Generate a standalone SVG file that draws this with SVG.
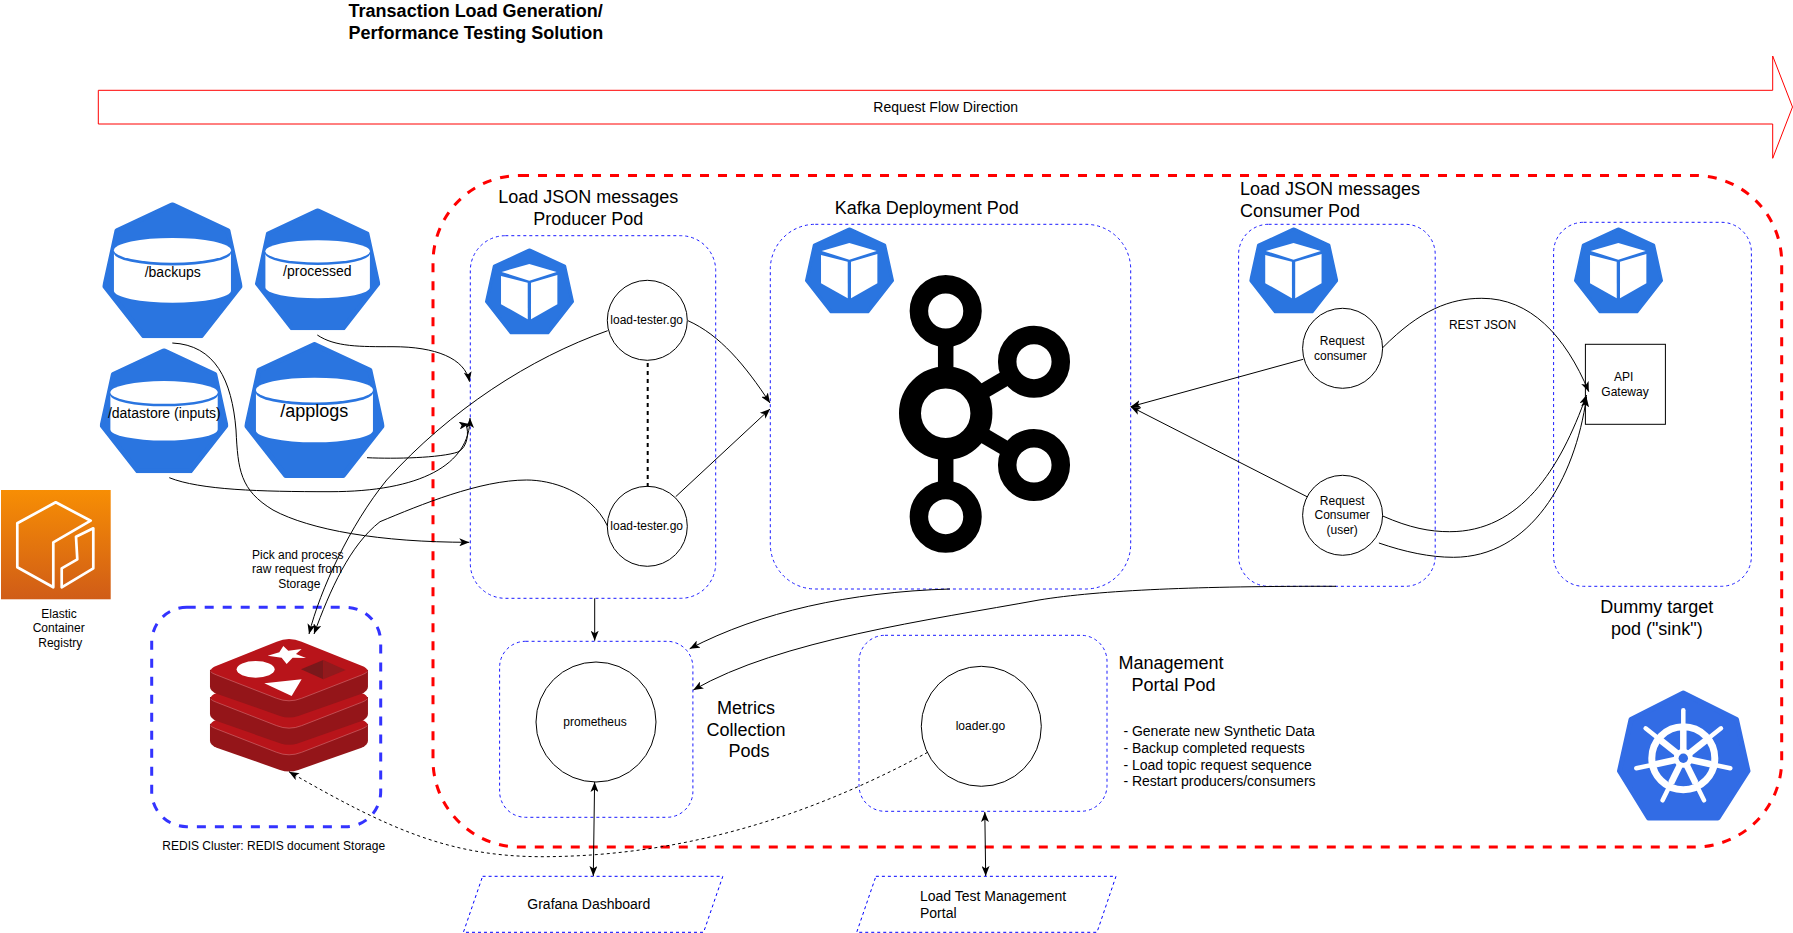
<svg xmlns="http://www.w3.org/2000/svg" xmlns:xlink="http://www.w3.org/1999/xlink" width="1793" height="933" viewBox="0 0 1793 933">
<style>
text{font-family:"Liberation Sans",Arial,sans-serif;fill:#000}
.s12{font-size:12px}.s14{font-size:14px}.s18{font-size:18px}
.m{text-anchor:middle}
.b{font-weight:bold}
.pod{fill:none;stroke:#1a1aff;stroke-width:1;stroke-dasharray:3 3}
.node{fill:#fff;stroke:#000;stroke-width:1}
.para{fill:#fff;stroke:#0000ff;stroke-width:1;stroke-dasharray:3 3}
.c{fill:none;stroke:#000;stroke-width:1}
.a{marker-end:url(#ah)}
.d{stroke-dasharray:3 3}
.both{marker-start:url(#ah)}
.r{fill:none;stroke:#000;stroke-width:15.5}
</style>
<defs>
<marker id="ah" viewBox="0 0 10 8" refX="10" refY="4" markerWidth="10" markerHeight="8" markerUnits="userSpaceOnUse" orient="auto-start-reverse"><path d="M0,0 L10,4 L0,8 L2.5,4 Z" fill="#000"/></marker>
<linearGradient id="ecr" x1="0" y1="0" x2="0" y2="1"><stop offset="0" stop-color="#F78E04"/><stop offset="1" stop-color="#D05C17"/></linearGradient>
<symbol id="vol" viewBox="0 0 1000 1000" preserveAspectRatio="none"><path d="M500,18 L895,208 L982,618 L705,982 L295,982 L18,618 L105,208 Z" fill="#2a75e0" stroke="#2a75e0" stroke-width="36" stroke-linejoin="round"/><ellipse cx="500" cy="353" rx="417" ry="91" fill="#fff"/><path d="M83,373 A417,91 0 0 0 917,373 L917,650 A417,88 0 0 1 83,650 Z" fill="#fff"/></symbol>
<symbol id="cube" viewBox="0 0 1000 1000" preserveAspectRatio="none"><path d="M500,18 L895,208 L982,618 L705,982 L295,982 L18,618 L105,208 Z" fill="#2a75e0" stroke="#2a75e0" stroke-width="36" stroke-linejoin="round"/><path d="M498,181 L805,274 L498,375 L187,274 Z" fill="#fff"/><path d="M180,320 L480,400 L480,822 L180,647 Z" fill="#fff"/><path d="M517,400 L813,310 L813,647 L517,822 Z" fill="#fff"/></symbol>
<g id="rl"><path d="M630,94 L630,145 Q630,157 650,166 L840,233 Q867,242 895,233 L1085,166 Q1104,157 1104,145 L1104,94 Z" fill="#941519"/><path d="M830,10 Q867,-6 905,10 L1085,82 Q1118,95 1085,110 L905,180 Q867,195 830,180 L650,110 Q616,95 650,82 Z" fill="#b8141a"/><path d="M632,100 Q636,105 650,110 L830,180 Q867,195 905,180 L1085,110 Q1098,105 1102,100" fill="none" stroke="#cf6a6e" stroke-width="2"/></g>
</defs>
<rect width="1793" height="933" fill="#fff"/>

<g id="flow-arrow"><path d="M98.3,90.3 H1772.7 V56 L1792.5,107 L1772.7,158.3 V124 H98.3 Z" fill="#fff" stroke="#ff0000" stroke-width="1"/><text class="s14 m" x="945.7" y="112">Request Flow Direction</text></g>
<g id="title"><text class="s18 b" x="348.6" y="17">Transaction Load Generation/</text><text class="s18 b" x="348.6" y="39">Performance Testing Solution</text></g>
<rect id="k8s-cluster" x="433" y="175.5" width="1348.7" height="671.5" rx="87" ry="87" fill="none" stroke="#ff0000" stroke-width="3" stroke-dasharray="9 9"/>
<g id="k8s-logo"><path d="M1683.3,693 L1736.5,719.5 L1748,771 L1718,818 L1648.5,818 L1619.5,771 L1631,719.5 Z" fill="#326ce5" stroke="#326ce5" stroke-width="5" stroke-linejoin="round"/>
<g fill="none" stroke="#fff"><circle cx="1683.3" cy="758.3" r="31.5" stroke-width="7"/><g stroke-width="4.5" stroke-linecap="round"><path d="M1683.3,758.3 V710.3"/><path d="M1683.3,758.3 L1721,728.3"/><path d="M1683.3,758.3 L1730.3,768.3"/><path d="M1683.3,758.3 L1704,800.3"/><path d="M1683.3,758.3 L1662.6,800.3"/><path d="M1683.3,758.3 L1636.3,768.3"/><path d="M1683.3,758.3 L1645.6,728.3"/></g><g stroke-width="6.5"><path d="M1683.3,758.3 V730"/><path d="M1683.3,758.3 L1705.5,740.6"/><path d="M1683.3,758.3 L1711,764.2"/><path d="M1683.3,758.3 L1695.5,783"/><path d="M1683.3,758.3 L1671.1,783"/><path d="M1683.3,758.3 L1655.6,764.2"/><path d="M1683.3,758.3 L1661.1,740.6"/></g></g><circle cx="1683.3" cy="758.3" r="9.5" fill="#fff"/><circle cx="1683.3" cy="758.3" r="4.7" fill="#326ce5"/></g>

<g id="ecr-icon"><rect x="1" y="490" width="109.7" height="109.3" fill="url(#ecr)"/><g fill="none" stroke="#fff" stroke-width="2.7" stroke-linejoin="round"><path d="M55.7,502.3 L90.7,520.7 L53.3,542.3 V587.3 L17.3,567.3 V523.3 Z"/><path d="M76,536.7 L93.3,528.3 V568.3 L61.7,587.3 V568.3 L77.3,559.3 Z"/></g><text class="s12 m" x="59" y="618">Elastic</text><text class="s12 m" x="58.7" y="632">Container</text><text class="s12 m" x="60.3" y="647">Registry</text></g>

<g id="vol-backups"><use href="#vol" x="102.3" y="202.3" width="140.3" height="136"/><text class="s14 m" x="172.7" y="277">/backups</text></g>
<g id="vol-processed"><use href="#vol" x="255" y="208.3" width="125.3" height="122"/><text class="s14 m" x="317.3" y="276">/processed</text></g>
<g id="vol-datastore"><use href="#vol" x="99.7" y="348.3" width="128.7" height="125"/><text class="s14 m" x="164.3" y="418">/datastore (inputs)</text></g>
<g id="vol-applogs"><use href="#vol" x="244.3" y="342" width="140.3" height="136"/><text class="s18 m" x="314.3" y="417">/applogs</text></g>

<g id="redis-cluster"><rect x="151.7" y="607.3" width="229" height="219.4" rx="35" ry="35" fill="none" stroke="#3333ff" stroke-width="3" stroke-dasharray="9 9"/><g transform="translate(0,480) scale(0.3333)"><use href="#rl" y="637"/><use href="#rl" y="557"/><use href="#rl" y="475"/><polygon points="850,498 865,512 905,507 888,522 918,534 878,533 860,552 845,533 803,527 838,517" fill="#fff"/><ellipse cx="767" cy="568" rx="57" ry="25" fill="#fff"/><polygon points="793,610 905,598 875,648" fill="#fff"/><polygon points="903,568 970,540 970,598" fill="#7a181b"/><polygon points="970,540 1037,570 970,598" fill="#911a1d"/></g><text class="s12 m" x="273.7" y="850">REDIS Cluster: REDIS document Storage</text></g>
<g id="redis-note"><text class="s12 m" x="297.7" y="559">Pick and process</text><text class="s12 m" x="297" y="573">raw request from</text><text class="s12 m" x="299.3" y="588">Storage</text></g>

<g id="producer-pod"><rect class="pod" x="470.3" y="235.7" width="245.4" height="362.6" rx="35" ry="35"/><use href="#cube" x="485" y="248.3" width="89" height="86.3"/><text class="s18 m" x="588.3" y="203">Load JSON messages</text><text class="s18 m" x="588.3" y="225">Producer Pod</text></g>
<g id="load-tester-1"><circle class="node" cx="647.3" cy="320.3" r="40"/><text class="s12 m" x="646.7" y="324">load-tester.go</text></g>
<g id="load-tester-2"><circle class="node" cx="647.3" cy="526.3" r="40"/><text class="s12 m" x="646.7" y="530">load-tester.go</text></g>

<g id="kafka-pod"><rect class="pod" x="770.3" y="224.3" width="360.4" height="364.7" rx="45" ry="45"/><use href="#cube" x="805" y="227.3" width="89" height="86.3"/><text class="s18 m" x="926.7" y="213.5">Kafka Deployment Pod</text>
<g id="kafka-logo"><path class="r" d="M945.7,330 V495"/><path class="r" d="M945.7,413.3 L1034,361.7"/><path class="r" d="M945.7,413.3 L1034,465"/><circle cx="945.7" cy="413.3" r="35.7" stroke="#000" stroke-width="22" fill="#fff"/><circle cx="945.7" cy="311" r="26.8" stroke="#000" stroke-width="18.5" fill="#fff"/><circle cx="1034" cy="361.7" r="26.8" stroke="#000" stroke-width="18.5" fill="#fff"/><circle cx="1034" cy="465" r="26.8" stroke="#000" stroke-width="18.5" fill="#fff"/><circle cx="945.7" cy="516.7" r="26.8" stroke="#000" stroke-width="18.5" fill="#fff"/></g></g>

<g id="consumer-pod"><rect class="pod" x="1238.6" y="224.3" width="196.6" height="362" rx="30" ry="30"/><use href="#cube" x="1249.2" y="227.3" width="89" height="86.3"/><text class="s18" x="1240" y="195">Load JSON messages</text><text class="s18" x="1240" y="217">Consumer Pod</text></g>
<g id="request-consumer"><circle class="node" cx="1342.6" cy="348.3" r="40"/><text class="s12 m" x="1342.2" y="344.7">Request</text><text class="s12 m" x="1340.3" y="360">consumer</text></g>
<g id="request-consumer-user"><circle class="node" cx="1342.6" cy="515.3" r="40"/><text class="s12 m" x="1342.2" y="505">Request</text><text class="s12 m" x="1342.2" y="519">Consumer</text><text class="s12 m" x="1342.2" y="534">(user)</text></g>

<g id="sink-pod"><rect class="pod" x="1553.6" y="222.3" width="197.8" height="364" rx="30" ry="30"/><use href="#cube" x="1574" y="227.3" width="89" height="86.3"/><text class="s18 m" x="1656.8" y="613">Dummy target</text><text class="s18 m" x="1656.8" y="635">pod ("sink")</text></g>
<g id="api-gateway"><rect class="node" x="1585.4" y="344.3" width="80" height="80"/><text class="s12 m" x="1623.6" y="381">API</text><text class="s12 m" x="1625" y="396">Gateway</text></g>

<g id="metrics-pod"><rect class="pod" x="499.6" y="641.3" width="193.3" height="176" rx="26" ry="26"/><text class="s18 m" x="746" y="714">Metrics</text><text class="s18 m" x="746" y="736">Collection</text><text class="s18 m" x="749" y="757">Pods</text></g>
<g id="prometheus"><circle class="node" cx="596" cy="722" r="60"/><text class="s12 m" x="595" y="726">prometheus</text></g>

<g id="management-pod"><rect class="pod" x="859" y="635.3" width="248" height="176" rx="26" ry="26"/><text class="s18 m" x="1171" y="669">Management</text><text class="s18 m" x="1173.6" y="691">Portal Pod</text><text class="s14" x="1123.4" y="736">- Generate new Synthetic Data</text><text class="s14" x="1123.4" y="753">- Backup completed requests</text><text class="s14" x="1123.4" y="770">- Load topic request sequence</text><text class="s14" x="1123.4" y="786">- Restart producers/consumers</text></g>
<g id="loader"><circle class="node" cx="981.3" cy="726.3" r="60"/><text class="s12 m" x="980.4" y="730">loader.go</text></g>

<g id="grafana"><polygon class="para" points="482.6,876.3 722.8,876.3 703.6,932.3 463.4,932.3"/><text class="s14 m" x="588.8" y="909">Grafana Dashboard</text></g>
<g id="portal"><polygon class="para" points="875.9,876.3 1116,876.3 1097,932.3 856.7,932.3"/><text class="s14" x="920" y="901">Load Test Management</text><text class="s14" x="920" y="918">Portal</text></g>

<g id="connectors">
<path class="c a" d="M317.3,335 C335,347 360,346.7 393,346.7 C435,346.7 465,358 469.5,381.7"/>
<path class="c a" d="M367,457.7 C395,459 440,458 458,452 C468,447 469,432 466,424.5 L469,424"/>
<path class="c a" d="M169.3,477.7 C200,490 260,491.7 330,491.7 C420,491.7 470,465 470,418"/>
<path class="c a" d="M172.3,343 C215,345 232,380 236,430 C238,470 240,490 273,510 C310,530 380,542.3 469.3,542.3"/>
<path class="c a" d="M607.7,330.7 C530,358 450,410 386.7,480 C350,525 320,590 309,634"/>
<path class="c a" d="M607.7,526.3 C590,490 550,480 526.7,480 C480,480 420,505 380,521.7 C350,545 330,590 314,634"/>
<path class="c a" d="M688,320.7 C720,335 745,365 770,403"/>
<path class="c a" d="M675.7,496.7 L770,409"/>
<path d="M647.7,363 V486.7" fill="none" stroke="#000" stroke-width="2" stroke-dasharray="4 4"/>
<path class="c a" d="M594.7,598.3 V640.7"/>
<path class="c a" d="M950,589 C850,592 760,612 689.7,648.7"/>
<path class="c a" d="M1336,586.3 C1200,586 1100,590 1039,600 C930,620 780,640 693.3,690"/>
<path class="c a" d="M1303.2,359.3 L1130.7,406.7"/>
<path class="c a" d="M1307,496.7 L1130.7,406.7"/>
<path class="c a" d="M1382.7,347.7 C1420,310 1450,298.3 1481.8,298.3 C1530,298.3 1565,335 1588.8,391.7"/>
<path class="c a" d="M1382.7,516 C1410,528 1430,531.7 1449.6,531.7 C1520,531.7 1560,470 1586.5,395"/>
<path class="c a" d="M1378.9,543 C1405,552 1430,557.3 1453.4,557.3 C1530,557.3 1575,480 1586.5,397"/>
<path class="c a d" d="M927.7,752.3 C830,805 700,857 539.3,856.7 C450,856 390,830 289,771.7"/>
<path class="c a both" d="M594.6,782 L593.3,876"/>
<path class="c a both" d="M984.8,812 L985.7,876"/>
<text class="s12 m" x="1482.5" y="328.5">REST JSON</text>
</g>
</svg>
